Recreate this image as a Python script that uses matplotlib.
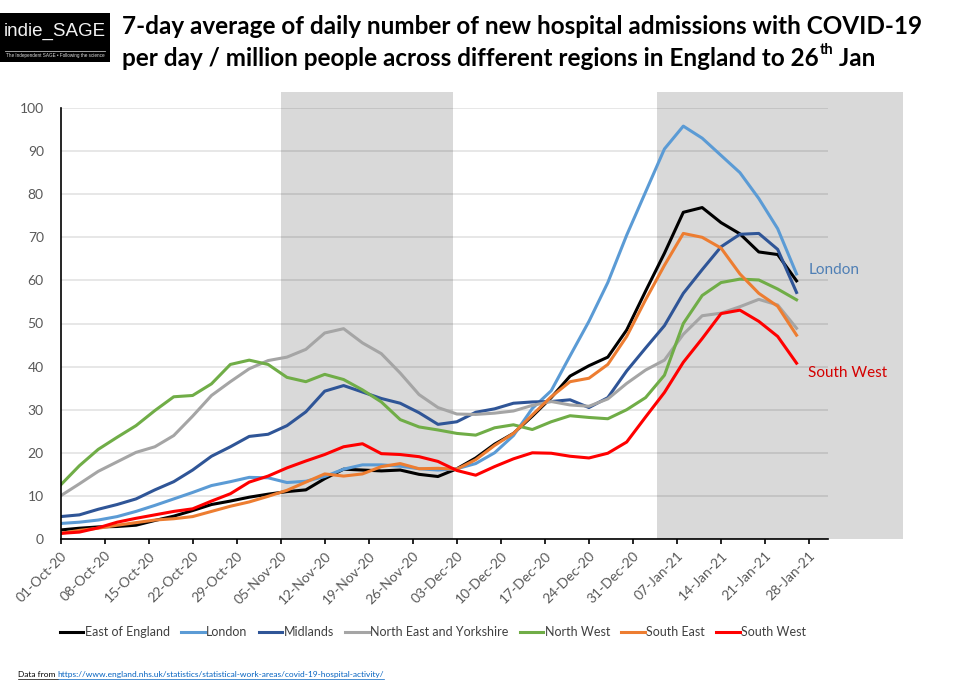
import pandas as pd
import matplotlib
matplotlib.use('Agg')
import matplotlib.pyplot as plt
from matplotlib.patches import Rectangle
from matplotlib.lines import Line2D

plt.rcParams['font.family'] = ['Lato', 'DejaVu Sans']

# 7-day average admissions per million, read every 3 days from 01-Oct-20 to 26-Jan-21
dates = pd.date_range('2020-10-01', '2021-01-26', freq='3D')

east_of_england = [2.1, 2.5, 2.8, 2.9, 3.2, 4.3, 5.3, 6.6, 8.0, 8.8, 9.7, 10.4, 11.0, 11.4,
                   14.0, 16.2, 16.0, 15.8, 16.0, 15.0, 14.5, 16.3, 18.8, 22.0, 24.5, 28.5,
                   32.8, 37.8, 40.2, 42.2, 48.5, 57.5, 66.3, 75.8, 76.9, 73.4, 70.8, 66.6,
                   66.0, 59.9]
london = [3.6, 3.9, 4.4, 5.2, 6.4, 7.8, 9.3, 10.8, 12.4, 13.3, 14.3, 14.2, 13.1, 13.4,
          14.5, 16.2, 17.2, 17.2, 16.9, 16.3, 16.0, 16.3, 17.5, 20.0, 24.0, 30.3, 34.4,
          42.5, 50.5, 59.5, 70.5, 80.5, 90.5, 95.8, 93.0, 89.0, 85.0, 79.0, 72.0, 61.5]
midlands = [5.2, 5.6, 6.9, 8.0, 9.3, 11.4, 13.3, 16.0, 19.2, 21.4, 23.8, 24.3, 26.3, 29.5,
            34.3, 35.6, 34.1, 32.6, 31.5, 29.3, 26.6, 27.2, 29.4, 30.2, 31.5, 31.8, 31.9,
            32.3, 30.5, 32.8, 39.0, 44.3, 49.5, 57.0, 62.5, 67.8, 70.7, 70.9, 67.2, 57.2]
north_east_yorks = [10.0, 12.8, 15.7, 17.9, 20.1, 21.4, 24.0, 28.5, 33.3, 36.5, 39.5, 41.4,
                    42.2, 44.0, 47.8, 48.8, 45.5, 43.0, 38.5, 33.5, 30.5, 29.0, 28.9, 29.2,
                    29.7, 31.0, 31.9, 31.1, 30.8, 32.5, 36.1, 39.2, 41.5, 47.5, 51.8, 52.4,
                    53.9, 55.6, 54.3, 48.9]
north_west = [12.5, 17.0, 20.8, 23.6, 26.3, 29.8, 33.0, 33.3, 36.0, 40.5, 41.5, 40.5, 37.5,
              36.5, 38.2, 37.0, 34.6, 31.8, 27.7, 26.0, 25.3, 24.5, 24.1, 25.8, 26.5, 25.4,
              27.2, 28.6, 28.2, 27.9, 30.0, 32.8, 38.0, 50.0, 56.5, 59.5, 60.3, 60.1, 58.0,
              55.5]
south_east = [1.3, 2.0, 2.5, 3.2, 3.8, 4.4, 4.7, 5.2, 6.4, 7.6, 8.6, 9.9, 11.3, 13.2, 15.1,
              14.6, 15.1, 16.8, 17.5, 16.3, 16.4, 16.2, 18.4, 21.7, 24.5, 28.8, 33.0, 36.5,
              37.3, 40.5, 47.0, 55.5, 63.5, 70.9, 70.0, 67.5, 61.5, 57.0, 54.0, 47.3]
south_west = [1.3, 1.6, 2.6, 3.9, 4.8, 5.6, 6.4, 7.0, 8.8, 10.5, 13.2, 14.6, 16.5, 18.1,
              19.6, 21.4, 22.1, 19.8, 19.6, 19.1, 18.0, 15.9, 14.8, 16.8, 18.6, 20.0, 19.9,
              19.2, 18.8, 19.9, 22.5, 28.3, 34.0, 41.0, 46.5, 52.3, 53.1, 50.5, 47.0, 40.8]

regions = ['East of England', 'London', 'Midlands', 'North East and Yorkshire',
           'North West', 'South East', 'South West']
series = [east_of_england, london, midlands, north_east_yorks, north_west, south_east,
          south_west]
colors = ['#000000', '#5b9bd5', '#2f5597', '#a5a5a5', '#70ad47', '#ed7d31', '#ff0000']

tick_dates = pd.date_range('2020-10-01', '2021-01-28', freq='7D')
# lockdown periods (shaded)
lockdowns = [('2020-11-05', '2020-12-02 08:00'), ('2021-01-03 18:00', '2021-02-12')]

fig = plt.figure(figsize=(9.55, 6.9), dpi=100)
W, H = 955, 690
ax = fig.add_axes([60.5 / W, 1 - 539 / H, (828 - 60.5) / W, (539 - 108) / H])

for start, end in lockdowns:
    s, e = pd.Timestamp(start), pd.Timestamp(end)
    ax.add_patch(Rectangle((s, 0), e - s, 103.7, facecolor='#d9d9d9', edgecolor='none',
                           clip_on=False, zorder=0.2))

for name, vals, c in zip(regions, series, colors):
    ax.plot(dates, vals, color=c, lw=2.2, label=name, solid_joinstyle='round', zorder=2)

ax.set_xlim(pd.Timestamp('2020-10-01'), pd.Timestamp('2021-01-31'))
ax.set_ylim(0, 100)
ax.set_yticks(range(0, 101, 10))
ax.set_xticks(tick_dates)
ax.set_xticklabels([d.strftime('%d-%b-%y') for d in tick_dates], rotation=45,
                   ha='right', rotation_mode='anchor')
ax.set_axisbelow(True)
ax.yaxis.grid(True, color='black', alpha=0.12, lw=1.1)
for side in ['top', 'right']:
    ax.spines[side].set_visible(False)
ax.spines['left'].set_linewidth(1.2)
ax.spines['bottom'].set_linewidth(1.2)
ax.tick_params(axis='y', length=0, pad=12, labelsize=10, labelcolor='#595959')
ax.tick_params(axis='x', length=3.5, width=1.2, pad=4, labelsize=10, labelcolor='#595959')
ax.set_facecolor('none')

handles = [Line2D([], [], color=c, lw=2.2) for c in colors]
fig.legend(handles, regions, loc='center', bbox_to_anchor=(433 / W, 1 - 632 / H), ncol=7,
           frameon=False, fontsize=9, handlelength=1.9, handletextpad=0.1,
           columnspacing=0.9, labelcolor='#404040')

fig.text(809 / W, 1 - 270 / H, 'London', color='#4f7fb5', fontsize=11, va='center')
fig.text(808 / W, 1 - 373 / H, 'South West', color='#d40000', fontsize=11, va='center')

# logo
fig.add_artist(Rectangle((0, 1 - 62 / H), 110 / W, 49 / H, transform=fig.transFigure,
                         facecolor='black', edgecolor='none'))
fig.text(55 / W, 1 - 31 / H, 'indie_SAGE', color='#f2f2f2', fontsize=13.5,
         family='Liberation Sans', ha='center', va='center')
fig.add_artist(Line2D([5 / W, 105 / W], [1 - 51 / H, 1 - 51 / H], color='#bbbbbb', lw=0.6,
                      transform=fig.transFigure))
fig.text(55 / W, 1 - 56 / H, 'The Independent SAGE \u2022 Following the science',
         color='#dddddd', fontsize=3.3, family='Liberation Sans', ha='center', va='center')

# title
title_kw = dict(fontweight='bold', fontsize=17.5, color='black', va='center')
fig.text(122 / W, 1 - 26 / H,
         '7-day average of daily number of new hospital admissions with COVID-19', **title_kw)
t2 = fig.text(122 / W, 1 - 59 / H,
              'per day / million people across different regions in England to 26', **title_kw)
fig.canvas.draw()
r = fig.canvas.get_renderer()
bb = t2.get_window_extent(r)
sup = fig.text(bb.x1 / W + 1 / W, 1 - 50 / H, 'th', fontweight='bold', fontsize=10.5,
               va='center')
bb2 = sup.get_window_extent(r)
fig.text(bb2.x1 / W, 1 - 59 / H, ' Jan', **title_kw)

# footer
f1 = fig.text(18 / W, 1 - 677 / H, 'Data from ', fontsize=6, color='black', va='baseline')
fb = f1.get_window_extent(r)
f2 = fig.text(fb.x1 / W, 1 - 677 / H,
              'https://www.england.nhs.uk/statistics/statistical-work-areas/covid-19-hospital-activity/',
              fontsize=6, color='#0563c1', va='baseline')
fb2 = f2.get_window_extent(r)
for b, c in [(fb, 'black'), (fb2, '#0563c1')]:
    fig.add_artist(Line2D([b.x0 / W, b.x1 / W], [(1 - 679 / H), (1 - 679 / H)], color=c,
                          lw=0.5, transform=fig.transFigure))

fig.savefig('out.png', dpi=100)
